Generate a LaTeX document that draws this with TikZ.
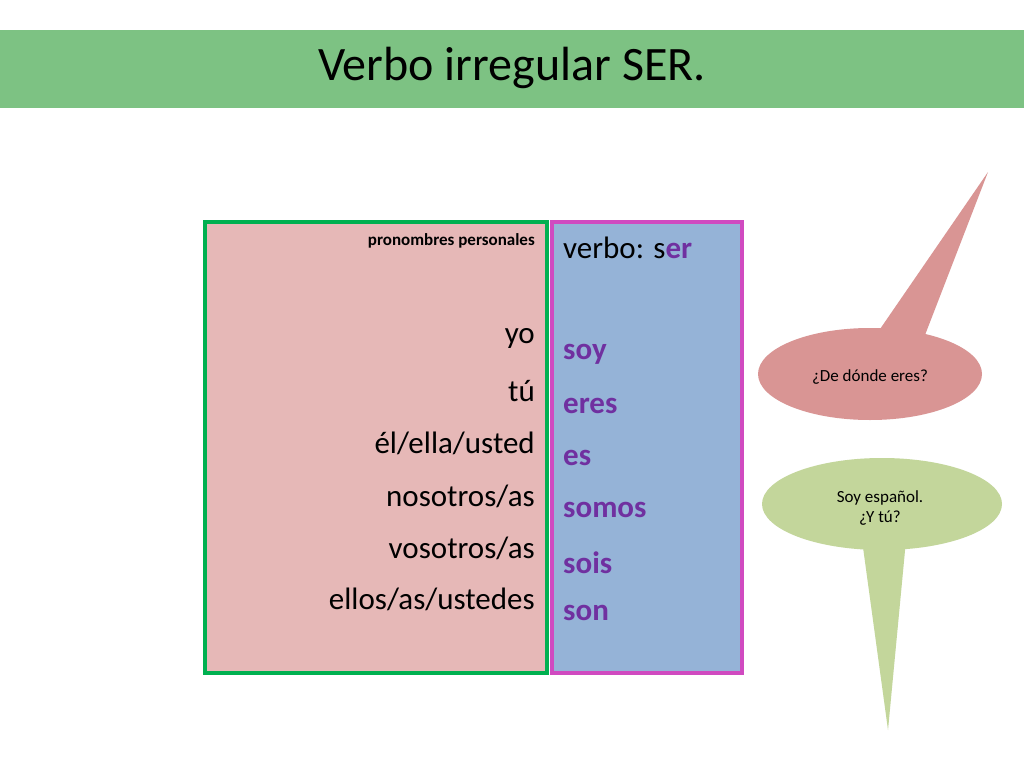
\documentclass[tikz,border=0pt]{standalone}
\usepackage{fontspec}
\setmainfont{Carlito}
\definecolor{titlegreen}{HTML}{7DC283}
\definecolor{pinkfill}{HTML}{E6B8B7}
\definecolor{bluefill}{HTML}{95B3D7}
\definecolor{greenline}{HTML}{00B050}
\definecolor{magline}{HTML}{D04AC0}
\definecolor{purp}{HTML}{7030A0}
\definecolor{redbub}{HTML}{D99594}
\definecolor{greenbub}{HTML}{C3D69B}
\begin{document}
\begin{tikzpicture}[x=1pt,y=-1pt,
  big/.style={font=\fontsize{31}{31}\selectfont,inner sep=0pt},
  verb/.style={font=\fontsize{31}{31}\selectfont\bfseries,text=purp,inner sep=0pt,anchor=west}]
\useasboundingbox (0,0) rectangle (1024,768);
\fill[white] (0,0) rectangle (1024,768);
\fill[titlegreen] (0,30) rectangle (1024,108);
\node[font=\fontsize{48}{48}\selectfont] (title) at (512,68) {Verbo irregular SER.};
\draw[greenline,line width=3.5pt,fill=pinkfill] (205,222) rectangle (547,673);
\draw[magline,line width=3.5pt,fill=bluefill] (552,222) rectangle (742,673);
\node[anchor=east,font=\fontsize{17}{17}\selectfont\bfseries,inner sep=0pt] (pp) at (535,241) {pronombres personales};
\foreach \t/\y/\n in {yo/338/a,tú/391/b,{él/ella/usted}/443/c,{nosotros/as}/496/d,{vosotros/as}/548/e,{ellos/as/ustedes}/599/f}
  \node[big,anchor=east] (p\n) at (535,\y) {\t};
\node[big,anchor=west] (vs) at (563,248) {verbo: s\textcolor{purp}{\bfseries er}};
\foreach \t/\y/\n in {soy/354/a,eres/406/b,es/458/c,somos/510/d,sois/563/e,son/613/f}
  \node[verb] (v\n) at (563,\y) {\t};
% red bubble
\fill[redbub] (870,374) ellipse [x radius=112, y radius=46];
\fill[redbub] (878,332) -- (988,172) -- (925,335) -- cycle;
\node[font=\fontsize{17}{17}\selectfont] (q1) at (870,377) {¿De dónde eres?};
% green bubble
\fill[greenbub] (882,504) ellipse [x radius=120, y radius=46];
\fill[greenbub] (862,540) -- (888,730) -- (906,540) -- cycle;
\node[font=\fontsize{17}{20}\selectfont,align=center] (q2) at (880,508) {Soy español.\\¿Y tú?};
\end{tikzpicture}
\end{document}
